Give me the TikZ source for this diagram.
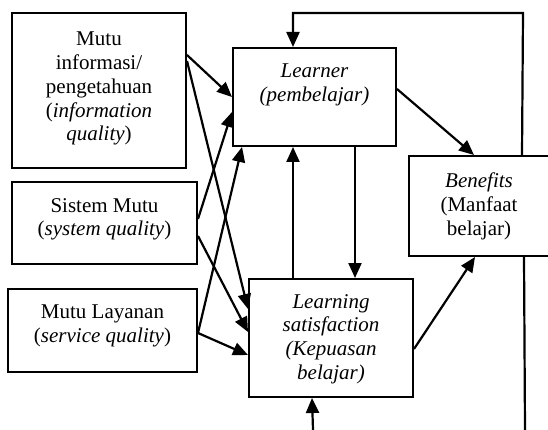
\documentclass[tikz,border=0pt]{standalone}
\usepackage{fontspec}
\setmainfont{Liberation Serif}
\usetikzlibrary{arrows.meta,calc}
\begin{document}
\begin{tikzpicture}[x=1pt,y=-1pt,
  box/.style={draw,line width=2pt,inner sep=0pt},
  lbl/.style={anchor=north,align=center,inner sep=0pt,font=\fontsize{21}{23.7}\selectfont},
  conn/.style={line width=2.2pt,-{Triangle[length=15pt,width=13pt]}},
  plainline/.style={line width=2.2pt}]
\clip (0,0) rectangle (548,430);
% boxes
\node[box,minimum width=174pt,minimum height=155pt] (b1) at (99,90.5) {};
\node[box,minimum width=185pt,minimum height=82pt] (b2) at (104.5,223) {};
\node[box,minimum width=189pt,minimum height=83pt] (b3) at (102.5,330.5) {};
\node[box,minimum width=163pt,minimum height=98pt] (L) at (314.5,97) {};
\node[box,minimum width=142pt,minimum height=100pt] (B) at (480,206) {};
\node[box,minimum width=164pt,minimum height=118pt] (S) at (331,338) {};
% texts
\node[lbl] (t1) at (99,32) {Mutu\\informasi/\\pengetahuan\\(\textit{information}\\\textit{quality})};
\node[lbl] (t2) at (104.5,198) {Sistem Mutu\\(\textit{system quality})};
\node[lbl] (t3) at (102.5,305) {Mutu Layanan\\(\textit{service quality})};
\node[lbl] (tL) at (314.5,64) {\textit{Learner}\\\textit{(pembelajar)}};
\node[lbl] (tB) at (479,172.7) {\textit{Benefits}\\(Manfaat\\belajar)};
\node[lbl] (tS) at (331,294) {\textit{Learning}\\\textit{satisfaction}\\\textit{(Kepuasan}\\\textit{belajar)}};
% free ends
\coordinate (fb) at (523,13);
\coordinate (bend) at (525,430);
\coordinate (bin) at (313,430);
% connectors from left boxes
\draw[conn] ([yshift=-43pt]b1.north east) -- ([yshift=-50pt]L.north west);
\draw[conn] ([yshift=-49pt]b1.north east) -- ([yshift=-31pt]S.north west);
\draw[conn] ([yshift=-38pt]b2.north east) -- ([yshift=-65pt]L.north west);
\draw[conn] ([yshift=-55pt]b2.north east) -- ([yshift=-54pt]S.north west);
\draw[conn] ([yshift=-45pt]b3.north east) -- ([xshift=10pt]L.south west);
\draw[conn] ([yshift=-45pt]b3.north east) -- ([yshift=-77pt]S.north west);
% between Learner and satisfaction
\draw[conn] ([xshift=123pt]L.south west) -- ([xshift=107pt]S.north west);
\draw[conn] ([xshift=45pt]S.north west) -- ([xshift=61pt]L.south west);
% to benefits
\draw[conn] ([yshift=-42pt]L.north east) -- ([xshift=66pt]B.north west);
\draw[conn] ([yshift=-71pt]S.north east) -- ([xshift=67pt]B.south west);
% feedback
\draw[conn] ([xshift=114pt]B.north west) -- (fb) -| ([xshift=61pt]L.north west);
\draw[plainline] ([xshift=116pt]B.south west) -- (bend);
\draw[conn] (bin) -- ([xshift=64pt]S.south west);
\end{tikzpicture}
\end{document}
